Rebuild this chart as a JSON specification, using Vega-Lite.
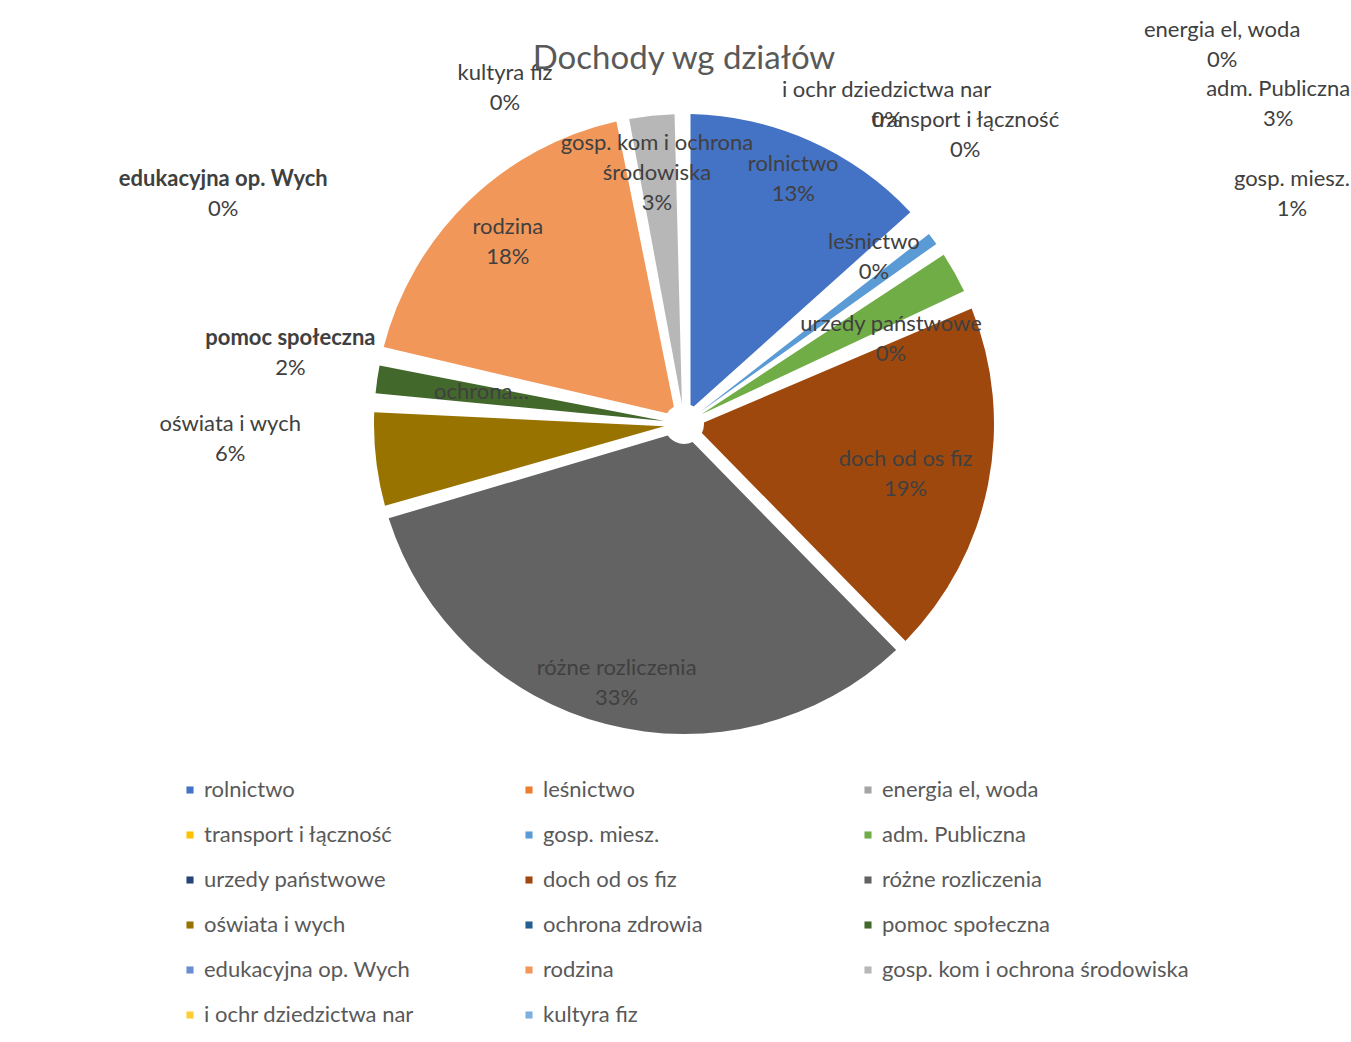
{
  "$schema": "https://vega.github.io/schema/vega-lite/v6.json",
  "width": 1368,
  "height": 848,
  "autosize": {"type": "none"},
  "padding": {"left": 0, "top": 0, "right": 0, "bottom": 194},
  "background": "white",
  "config": {"view": {"stroke": null}, "font": "Lato"},
  "title": {"text": "Dochody wg działów", "font": "Lato", "fontSize": 33, "fontWeight": "normal", "color": "#595959", "anchor": "middle", "frame": "group", "baseline": "alphabetic", "offset": -102},
  "data": {"values": [
    {"k": "rolnictwo", "v": 13.3},
    {"k": "leśnictwo", "v": 0.3},
    {"k": "energia el, woda", "v": 0.2},
    {"k": "transport i łączność", "v": 0.3},
    {"k": "gosp. miesz.", "v": 1.3},
    {"k": "adm. Publiczna", "v": 2.8},
    {"k": "urzedy państwowe", "v": 0.3},
    {"k": "doch od os fiz", "v": 19.0},
    {"k": "różne rozliczenia", "v": 32.6},
    {"k": "oświata i wych", "v": 5.5},
    {"k": "ochrona zdrowia", "v": 0.3},
    {"k": "pomoc społeczna", "v": 2.1},
    {"k": "edukacyjna op. Wych", "v": 0.3},
    {"k": "rodzina", "v": 18.1},
    {"k": "gosp. kom i ochrona środowiska", "v": 3.0},
    {"k": " i ochr dziedzictwa nar", "v": 0.1},
    {"k": "kultyra fiz", "v": 0.1}
  ]},
  "transform": [
    {"window": [{"op": "row_number", "as": "i"}]},
    {"joinaggregate": [{"op": "sum", "field": "v", "as": "tot"}]},
    {"stack": "v", "groupby": [], "sort": [{"field": "i", "order": "ascending"}], "as": ["t0", "t1"]},
    {"calculate": "(datum.t0 + datum.t1) / 2", "as": "mid"},
    {"calculate": "format(datum.v / datum.tot, '.0%')", "as": "pct"},
    {"calculate": "datum.k === 'gosp. kom i ochrona środowiska' ? ['gosp. kom i ochrona', 'środowiska', datum.pct] : [trim(datum.k), datum.pct]", "as": "lbl"},
    {"calculate": "[trim(datum.k), '']", "as": "nm"},
    {"calculate": "['', datum.pct]", "as": "pc"}
  ],
  "layer": [
    {
      "mark": {"type": "arc", "outerRadius": 310, "innerRadius": 20, "padAngle": 0.042},
      "encoding": {
        "theta": {"field": "t0", "type": "quantitative", "scale": {"zero": true}},
        "theta2": {"field": "t1"},
        "color": {
          "field": "k", "type": "nominal",
          "scale": {
            "domain": ["rolnictwo", "leśnictwo", "energia el, woda", "transport i łączność", "gosp. miesz.", "adm. Publiczna", "urzedy państwowe", "doch od os fiz", "różne rozliczenia", "oświata i wych", "ochrona zdrowia", "pomoc społeczna", "edukacyjna op. Wych", "rodzina", "gosp. kom i ochrona środowiska", " i ochr dziedzictwa nar", "kultyra fiz"],
            "range": ["#4472C4", "#ED7D31", "#A5A5A5", "#FFC000", "#5B9BD5", "#70AD47", "#264478", "#9E480E", "#636363", "#997300", "#255E91", "#43682B", "#698ED0", "#F1975A", "#B7B7B7", "#FFCD33", "#7CAFDD"]
          },
          "legend": {
            "orient": "none", "legendX": 179, "legendY": 779, "direction": "horizontal", "columns": 3, "title": null,
            "symbolType": "square", "symbolSize": 50, "symbolStrokeWidth": 0,
            "labelFont": "Lato", "labelFontSize": 22, "labelColor": "#595959", "labelLimit": 500,
            "labelOffset": 3, "rowPadding": 23, "columnPadding": 7, "gridAlign": "all", "padding": 0
          }
        }
      }
    },
    {
      "transform": [{"filter": {"field": "k", "oneOf": ["rolnictwo", "różne rozliczenia"]}}],
      "mark": {"type": "text", "radius": 268, "dy": -15, "fontSize": 22, "color": "#404040", "lineHeight": 30, "baseline": "middle", "align": "center"},
      "encoding": {"theta": {"field": "mid", "type": "quantitative"}, "text": {"field": "lbl"}}
    },
    {
      "transform": [{"filter": {"field": "k", "oneOf": ["leśnictwo", "rodzina"]}}],
      "mark": {"type": "text", "radius": 253, "dy": -15, "fontSize": 22, "color": "#404040", "lineHeight": 30, "baseline": "middle", "align": "center"},
      "encoding": {"theta": {"field": "mid", "type": "quantitative"}, "text": {"field": "lbl"}}
    },
    {
      "transform": [{"filter": {"field": "k", "equal": "gosp. kom i ochrona środowiska"}}],
      "mark": {"type": "text", "radius": 260, "dy": -22, "fontSize": 22, "color": "#404040", "lineHeight": 30, "baseline": "middle", "align": "center"},
      "encoding": {"theta": {"field": "mid", "type": "quantitative"}, "text": {"field": "lbl"}}
    },
    {
      "transform": [{"filter": {"field": "k", "oneOf": ["doch od os fiz", "urzedy państwowe"]}}],
      "mark": {"type": "text", "radius": 226, "dy": -9, "fontSize": 22, "color": "#404040", "lineHeight": 30, "baseline": "middle", "align": "center"},
      "encoding": {"theta": {"field": "mid", "type": "quantitative"}, "text": {"field": "lbl"}}
    },
    {
      "transform": [{"filter": {"field": "k", "equal": "ochrona zdrowia"}}],
      "mark": {"type": "text", "radius": 205, "thetaOffset": 0.086, "limit": 100, "fontSize": 22, "color": "#404040", "baseline": "middle", "align": "center"},
      "encoding": {"theta": {"field": "mid", "type": "quantitative"}, "text": {"field": "k"}}
    },
    {
      "transform": [{"filter": {"field": "k", "equal": "oświata i wych"}}],
      "mark": {"type": "text", "radius": 454, "thetaOffset": 0.082, "dy": -15, "fontSize": 22, "color": "#404040", "lineHeight": 30, "baseline": "middle", "align": "center"},
      "encoding": {"theta": {"field": "mid", "type": "quantitative"}, "text": {"field": "lbl"}}
    },
    {
      "transform": [{"filter": {"field": "k", "equal": "pomoc społeczna"}}],
      "mark": {"type": "text", "radius": 400, "thetaOffset": 0.035, "dy": -15, "fontSize": 22, "fontWeight": "bold", "color": "#404040", "lineHeight": 30, "baseline": "middle", "align": "center"},
      "encoding": {"theta": {"field": "mid", "type": "quantitative"}, "text": {"field": "nm"}}
    },
    {
      "transform": [{"filter": {"field": "k", "equal": "pomoc społeczna"}}],
      "mark": {"type": "text", "radius": 400, "thetaOffset": 0.035, "dy": -15, "fontSize": 22, "color": "#404040", "lineHeight": 30, "baseline": "middle", "align": "center"},
      "encoding": {"theta": {"field": "mid", "type": "quantitative"}, "text": {"field": "pc"}}
    },
    {
      "transform": [{"filter": {"field": "k", "equal": "edukacyjna op. Wych"}}],
      "mark": {"type": "text", "radius": 515, "thetaOffset": 0.243, "dy": -15, "fontSize": 22, "fontWeight": "bold", "color": "#404040", "lineHeight": 30, "baseline": "middle", "align": "center"},
      "encoding": {"theta": {"field": "mid", "type": "quantitative"}, "text": {"field": "nm"}}
    },
    {
      "transform": [{"filter": {"field": "k", "equal": "edukacyjna op. Wych"}}],
      "mark": {"type": "text", "radius": 515, "thetaOffset": 0.243, "dy": -15, "fontSize": 22, "color": "#404040", "lineHeight": 30, "baseline": "middle", "align": "center"},
      "encoding": {"theta": {"field": "mid", "type": "quantitative"}, "text": {"field": "pc"}}
    },
    {
      "transform": [{"filter": {"field": "k", "equal": "kultyra fiz"}}],
      "mark": {"type": "text", "radius": 381, "thetaOffset": -0.489, "dy": -15, "fontSize": 22, "color": "#404040", "lineHeight": 30, "baseline": "middle", "align": "center"},
      "encoding": {"theta": {"field": "mid", "type": "quantitative"}, "text": {"field": "lbl"}}
    },
    {
      "transform": [{"filter": {"field": "k", "equal": " i ochr dziedzictwa nar"}}],
      "mark": {"type": "text", "radius": 378, "thetaOffset": 0.572, "dy": -15, "fontSize": 22, "color": "#404040", "lineHeight": 30, "baseline": "middle", "align": "center"},
      "encoding": {"theta": {"field": "mid", "type": "quantitative"}, "text": {"field": "lbl"}}
    },
    {
      "transform": [{"filter": {"field": "k", "equal": "transport i łączność"}}],
      "mark": {"type": "text", "radius": 403, "thetaOffset": -0.108, "dy": -15, "fontSize": 22, "color": "#404040", "lineHeight": 30, "baseline": "middle", "align": "center"},
      "encoding": {"theta": {"field": "mid", "type": "quantitative"}, "text": {"field": "lbl"}}
    },
    {
      "transform": [{"filter": {"field": "k", "equal": "energia el, woda"}}],
      "mark": {"type": "text", "radius": 658, "thetaOffset": 0.093, "dy": -15, "fontSize": 22, "color": "#404040", "lineHeight": 30, "baseline": "middle", "align": "center"},
      "encoding": {"theta": {"field": "mid", "type": "quantitative"}, "text": {"field": "lbl"}}
    },
    {
      "transform": [{"filter": {"field": "k", "equal": "adm. Publiczna"}}],
      "mark": {"type": "text", "radius": 675, "thetaOffset": 0.016, "dy": -15, "fontSize": 22, "color": "#404040", "lineHeight": 30, "baseline": "middle", "align": "center"},
      "encoding": {"theta": {"field": "mid", "type": "quantitative"}, "text": {"field": "lbl"}}
    },
    {
      "transform": [{"filter": {"field": "k", "equal": "gosp. miesz."}}],
      "mark": {"type": "text", "radius": 650, "thetaOffset": 0.278, "dy": -15, "fontSize": 22, "color": "#404040", "lineHeight": 30, "baseline": "middle", "align": "center"},
      "encoding": {"theta": {"field": "mid", "type": "quantitative"}, "text": {"field": "lbl"}}
    }
  ]
}
